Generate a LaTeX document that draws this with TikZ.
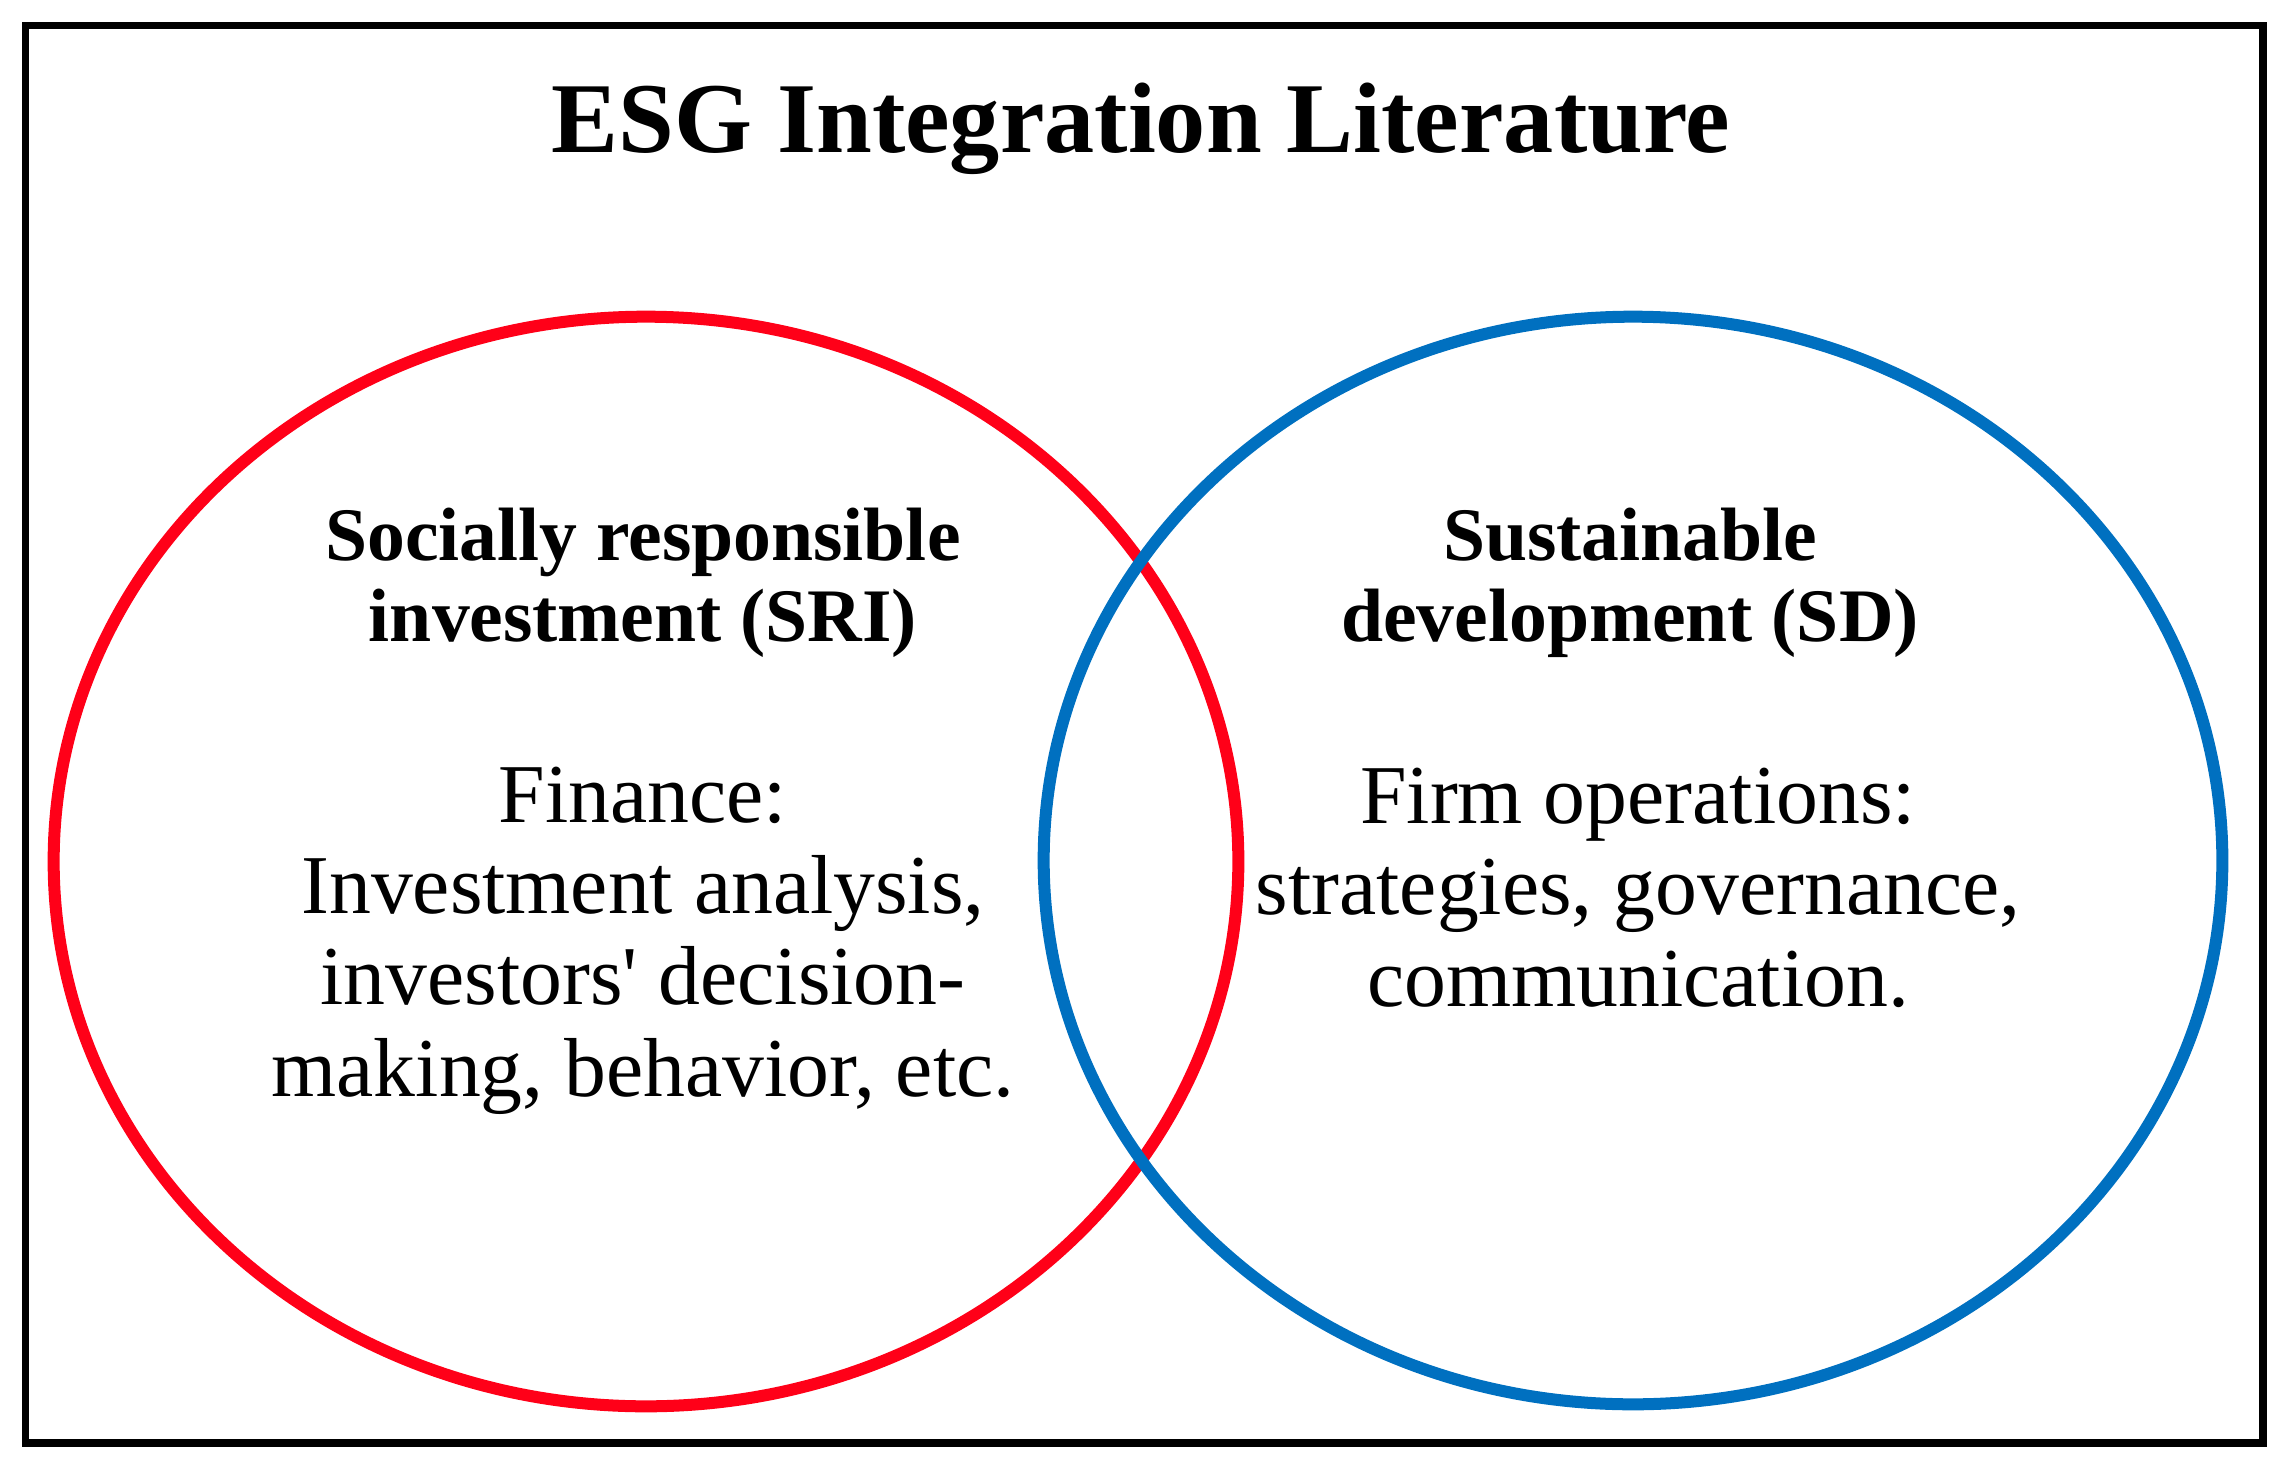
\documentclass[tikz,border=0pt]{standalone}
\usepackage{fontspec}
\newfontfamily\tnr{Liberation Serif}
\definecolor{vred}{RGB}{255,0,24}
\definecolor{vblue}{RGB}{0,112,192}
\tikzset{
  ring/.style={line width=0.12cm},
  frame/.style={line width=0.075cm, draw=black},
  head/.style={font=\tnr\bfseries\fontsize{21.5}{22.8}\selectfont, align=center, anchor=base, inner sep=0pt},
  body/.style={font=\tnr\fontsize{23.8}{25.9}\selectfont, align=center, anchor=base, inner sep=0pt},
}
\begin{document}
\begin{tikzpicture}[x=0.01cm, y=-0.01cm]
\useasboundingbox (0,0) rectangle (2286,1473);
\draw[frame] (25.5,25.5) rectangle (2263,1443);
\node[font=\tnr\bfseries\fontsize{28.5}{30}\selectfont, anchor=base, inner sep=0pt] (title) at (1141,153) {ESG Integration Literature};
\draw[ring, vred] (646,861.5) ellipse [x radius=5.92cm, y radius=5.445cm];
\draw[ring, vblue] (1633,860.5) ellipse [x radius=5.89cm, y radius=5.435cm];
\node[head] (sri) at (643,641) {Socially responsible\\investment (SRI)};
\node[head] (sd) at (1630,641) {Sustainable\\development (SD)};
\node[body] (fin) at (643,1096) {Finance:\\Investment analysis,\\investors' decision-\\making, behavior, etc.};
\node[body] (firm) at (1638,1006) {Firm operations:\\strategies, governance,\\communication.};
\end{tikzpicture}
\end{document}
